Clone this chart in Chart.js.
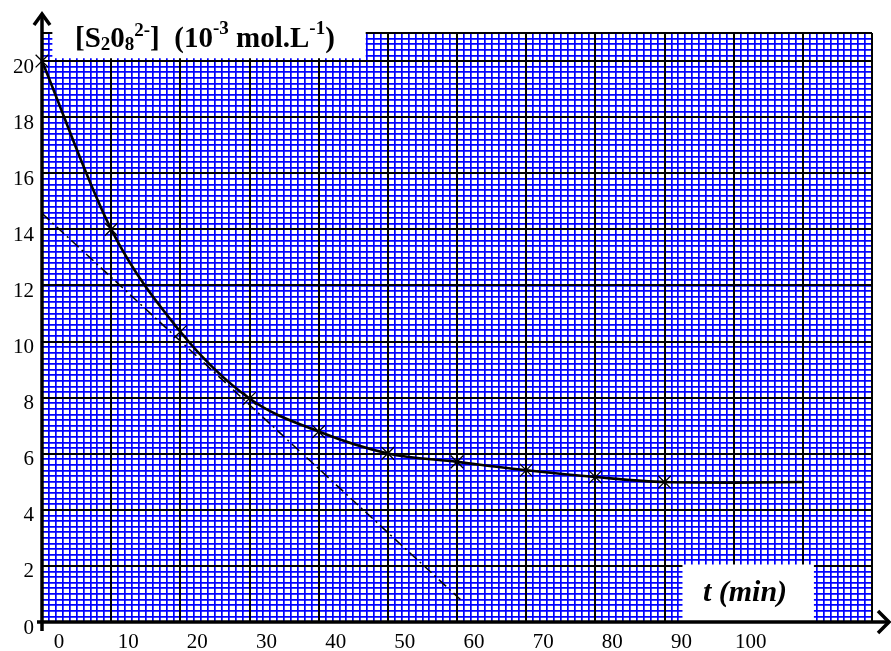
<!DOCTYPE html>
<html>
<head>
<meta charset="utf-8">
<title>[S2O8 2-] vs t</title>
<script src="https://cdn.jsdelivr.net/npm/chart.js@4.4.1/dist/chart.umd.min.js"></script>
<style>
  html, body { margin: 0; padding: 0; background: #fff; }
  #wrap { position: relative; width: 891px; height: 651px; }
</style>
</head>
<body>
<div id="wrap"><canvas id="myChart"></canvas></div>
<script>
// readings: t in min, concentration in 10^-3 mol/L
const times = [0, 10, 20, 30, 40, 50, 60, 70, 80, 90, 100, 110];
const conc = [20, 14.0, 10.35, 7.97, 6.79, 6.01, 5.71, 5.41, 5.17, 4.99, 4.97, 4.99];
// only the measured points get a cross (the curve goes on to 110)
const markedCount = 10;
// tangent to the curve at t = 20 min
const tangentT = [0, 60.5];
const tangentC = [14.57, 0.8];
// labelled ticks
const xTickLabels = [0, 10, 20, 30, 40, 50, 60, 70, 80, 90, 100];
const yTickLabels = [0, 2, 4, 6, 8, 10, 12, 14, 16, 18, 20];

const serif = "'Liberation Serif', 'Times New Roman', serif";

// draws a line of text made of runs (normal / sub / sup)
function drawRuns(ctx, x, y, runs, style) {
  runs.forEach(r => {
    ctx.font = style + " " + r.size + "px " + serif;
    ctx.fillText(r.text, x, y + (r.dy || 0));
    x += ctx.measureText(r.text).width;
  });
}

const paperPlugin = {
  id: "paper",
  beforeDatasetsDraw(chart) {
    const { ctx, scales: { x, y } } = chart;
    ctx.save();
    ctx.fillStyle = "#fff";
    // white box for the y title
    const tx0 = x.getPixelForValue(1.5), tx1 = x.getPixelForValue(46.8);
    ctx.fillRect(tx0, 0, tx1 - tx0, y.getPixelForValue(20.1));
    // white box for the t (min) label
    const bx0 = x.getPixelForValue(92.6), bx1 = x.getPixelForValue(111.6);
    const by0 = y.getPixelForValue(2.05);
    ctx.fillRect(bx0, by0, bx1 - bx0, y.getPixelForValue(0) - by0);
    ctx.restore();
  },
  afterDatasetsDraw(chart) {
    const { ctx, scales: { x, y } } = chart;
    const ox = x.getPixelForValue(0), oy = y.getPixelForValue(0);
    ctx.save();
    ctx.strokeStyle = "#000";
    ctx.lineWidth = 3.5;
    ctx.lineJoin = "miter";
    // y axis + arrow
    ctx.beginPath(); ctx.moveTo(ox, oy + 9); ctx.lineTo(ox, 15); ctx.stroke();
    ctx.beginPath(); ctx.moveTo(ox - 8, 25); ctx.lineTo(ox, 14); ctx.lineTo(ox + 8, 25); ctx.stroke();
    // x axis + arrow
    ctx.beginPath(); ctx.moveTo(ox - 5, oy); ctx.lineTo(887, oy); ctx.stroke();
    ctx.beginPath(); ctx.moveTo(878, oy - 11); ctx.lineTo(889, oy); ctx.lineTo(878, oy + 11); ctx.stroke();

    // titles
    ctx.fillStyle = "#000";
    ctx.textBaseline = "alphabetic";
    ctx.textAlign = "left";
    drawRuns(ctx, 75, 47, [
      { text: "[S", size: 29 },
      { text: "2", size: 19, dy: 3 },
      { text: "0", size: 29 },
      { text: "8", size: 19, dy: 3 },
      { text: "2-", size: 19, dy: -11 },
      { text: "]  (10", size: 29 },
      { text: "-3", size: 19, dy: -13 },
      { text: " mol.L", size: 29 },
      { text: "-1", size: 19, dy: -13 },
      { text: ")", size: 29 }
    ], "bold");
    ctx.textAlign = "center";
    ctx.font = "italic bold 30px " + serif;
    ctx.fillText("t (min)", 745, 601);
    ctx.restore();
  }
};

const curveData = times.map((t, i) => ({ x: t, y: conc[i] }));
const tangentData = tangentT.map((t, i) => ({ x: t, y: tangentC[i] }));

const isOn = (v, list) => list.some(l => Math.abs(l - v) < 1e-6);

new Chart(document.getElementById("myChart"), {
  type: "line",
  data: {
    datasets: [
      {
        label: "[S2O8 2-]",
        data: curveData,
        borderColor: "#000",
        backgroundColor: "#000",
        borderWidth: 2.6,
        cubicInterpolationMode: "monotone",
        pointStyle: "crossRot",
        pointRadius: ctx => ctx.dataIndex < markedCount ? 9 : 0,
        pointBorderWidth: 1.3,
        pointBorderColor: "#000",
        clip: false
      },
      {
        label: "tangent",
        data: tangentData,
        borderColor: "#000",
        borderWidth: 1.5,
        borderDash: [10, 4, 2, 4],
        pointRadius: 0
      }
    ]
  },
  options: {
    responsive: true,
    maintainAspectRatio: false,
    animation: false,
    layout: { padding: { top: 33, right: 19, left: 0, bottom: 0 }, autoPadding: false },
    plugins: { legend: { display: false }, tooltip: { enabled: false } },
    scales: {
      x: {
        type: "linear", position: "bottom", min: 0, max: 120,
        grid: { color: "#000", lineWidth: 2, drawTicks: false, z: -1 },
        border: { display: false },
        ticks: {
          stepSize: 10, autoSkip: false, maxRotation: 0, minRotation: 0,
          padding: 8, labelOffset: 17, color: "#000",
          font: { family: serif, size: 21 },
          callback: v => isOn(v, xTickLabels) ? String(v) : ""
        },
        afterFit: s => { s.height = 29; }
      },
      y: {
        type: "linear", position: "left", min: 0, max: 21,
        grid: { color: "#000", lineWidth: 2, drawTicks: false, z: -1 },
        border: { display: false },
        ticks: {
          stepSize: 2, autoSkip: false, padding: 8, labelOffset: 6, color: "#000",
          font: { family: serif, size: 21 },
          callback: v => isOn(v, yTickLabels) ? String(v) : ""
        },
        afterFit: s => { s.width = 42; }
      },
      xMinor: {
        type: "linear", position: "bottom", min: 0, max: 120,
        grid: { color: "#0000ff", lineWidth: 1.7, drawTicks: false, z: -2 },
        border: { display: false },
        ticks: { display: false, stepSize: 1, autoSkip: false },
        afterFit: s => { s.height = 0; }
      },
      yMinor: {
        type: "linear", position: "left", min: 0, max: 21,
        grid: { color: "#0000ff", lineWidth: 1.7, drawTicks: false, z: -2 },
        border: { display: false },
        ticks: { display: false, stepSize: 0.2, autoSkip: false },
        afterFit: s => { s.width = 0; }
      }
    }
  },
  plugins: [paperPlugin]
});
</script>
</body>
</html>
